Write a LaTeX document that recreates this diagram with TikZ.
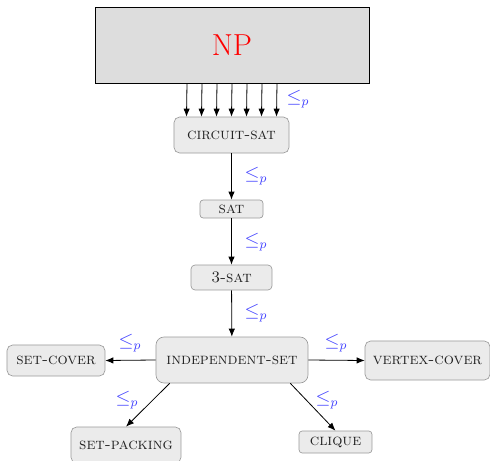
\documentclass[tikz,border=0pt]{standalone}
\usetikzlibrary{arrows.meta}
\definecolor{npfill}{HTML}{DDDDDD}
\definecolor{boxfill}{HTML}{EBEBEB}
\definecolor{boxline}{HTML}{999999}
\definecolor{lblblue}{HTML}{4444FF}
\definecolor{txt}{HTML}{222222}
\tikzset{
  prob/.style={draw=boxline, fill=boxfill, rounded corners=3.5pt, inner sep=0pt, text=txt, font=\scshape},
  red/.style={-{Latex[length=5pt,width=4pt]}, line width=0.5pt},
  lbl/.style={text=lblblue, inner sep=0pt, font=\large},
}
\begin{document}
\begin{tikzpicture}[x=0.625pt,y=-0.625pt]
\useasboundingbox (0,0) rectangle (490,461);
\node[draw=black, fill=npfill, minimum width=171.25pt, minimum height=47.5pt, inner sep=0pt, text=red, font=\fontsize{19}{22}\selectfont] (np) at (232,45) {NP};
\node[prob, minimum width=71.9pt, minimum height=22.5pt] (cs) at (231.5,135) {circuit-sat};
\node[prob, minimum width=39.4pt, minimum height=11.25pt, rounded corners=2pt] (sat) at (231.5,209) {sat};
\node[prob, minimum width=50.6pt, minimum height=15.6pt, rounded corners=2.5pt] (tsat) at (231.5,277.5) {3-sat};
\node[prob, minimum width=95pt, minimum height=28.75pt, rounded corners=5pt] (is) at (232,360) {independent-set};
\node[prob, minimum width=61.25pt, minimum height=19.4pt] (sc) at (56,360.5) {set-cover};
\node[prob, minimum width=78.1pt, minimum height=24.4pt] (vc) at (427.5,360.5) {vertex-cover};
\node[prob, minimum width=68.75pt, minimum height=22.5pt] (sp) at (126,445) {set-packing};
\node[prob, minimum width=45.6pt, minimum height=13.75pt, rounded corners=2pt] (cl) at (335.5,442) {clique};
\foreach \i in {-3,...,3}
  \draw[red] ([xshift=\i*9.375pt]np.south) -- ([xshift=\i*9.375pt]cs.north);
\draw[red] (cs) -- (sat);
\draw[red] (sat) -- (tsat);
\draw[red] (tsat) -- (is);
\draw[red] (is.west) -- (sc.east);
\draw[red] (is.east) -- (vc.west);
\draw[red] ([xshift=8.75pt]is.south west) -- (sp.north);
\draw[red] ([xshift=-11.25pt]is.south east) -- (cl.north);
\node[lbl] (l0) at (298,99) {$\leq_p$};
\node[lbl] (l1) at (256,176) {$\leq_p$};
\node[lbl] (l2) at (256,242) {$\leq_p$};
\node[lbl] (l3) at (256,313) {$\leq_p$};
\node[lbl] (l4) at (130,343) {$\leq_p$};
\node[lbl] (l5) at (336,343) {$\leq_p$};
\node[lbl] (l6) at (127,400) {$\leq_p$};
\node[lbl] (l7) at (327,400) {$\leq_p$};
\end{tikzpicture}
\end{document}
